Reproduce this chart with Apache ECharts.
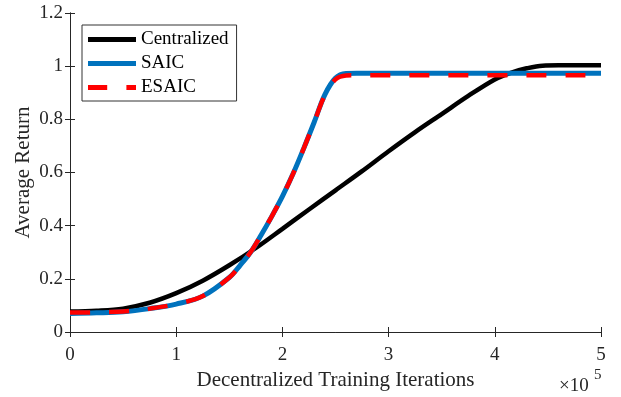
<!DOCTYPE html>
<html>
<head>
<meta charset="utf-8">
<script src="https://cdn.jsdelivr.net/npm/echarts@6/dist/echarts.min.js"></script>
<style>
html,body{margin:0;padding:0;background:#fff;}
#chart{width:621px;height:397px;}
</style>
</head>
<body>
<div id="chart"></div>
<script>
// x values in units of 1e5 iterations
var centralX = [0,0.25,0.5,0.75,1,1.25,1.5,1.75,2,2.25,2.5,2.75,3,3.25,3.5,3.75,4,4.15,4.3,4.45,4.6,5];
var centralY = [0.077,0.080,0.088,0.110,0.146,0.193,0.251,0.316,0.388,0.461,0.533,0.605,0.680,0.752,0.820,0.888,0.950,0.975,0.992,1.002,1.003,1.003];

var saicX = [0,0.25,0.5,0.75,1,1.25,1.5,1.6,1.7,1.8,1.9,2,2.1,2.2,2.3,2.4,2.5,2.6,2.7,5];
var saicY = [0.070,0.072,0.076,0.088,0.105,0.135,0.205,0.250,0.300,0.365,0.435,0.510,0.595,0.690,0.790,0.893,0.955,0.972,0.973,0.973];

var esaicX = [0,0.25,0.5,0.75,1,1.25,1.5,1.6,1.7,1.8,1.9,2,2.1,2.2,2.3,2.4,2.5,2.6,2.7,5];
var esaicY = [0.073,0.074,0.077,0.088,0.105,0.135,0.205,0.250,0.300,0.365,0.435,0.510,0.595,0.690,0.790,0.891,0.950,0.965,0.966,0.966];

var seriesNames = ['Centralized','SAIC','ESAIC'];
var xTicks = [0,1,2,3,4,5];
var yTicks = [0,0.2,0.4,0.6,0.8,1,1.2];

function pairs(xs, ys){ return xs.map(function(x,i){ return [x, ys[i]]; }); }

var FONT = '"Liberation Serif", "Times New Roman", serif';
var AX = '#262626';
var SOLID_ICON = 'path://M0,0H50V5H0Z';
var DASH_ICON = 'path://M0,0H20V5H0Z M40,0H50V5H40Z';

var chart = echarts.init(document.getElementById('chart'), null, {renderer:'canvas'});
var option = {
  backgroundColor: '#fff',
  animation: false,
  grid: {left:70, right:20, top:13, bottom:65},
  legend: {
    orient:'vertical', left:82, top:25,
    data: [
      {name:seriesNames[0], icon:SOLID_ICON},
      {name:seriesNames[1], icon:SOLID_ICON},
      {name:seriesNames[2], icon:DASH_ICON}
    ],
    itemWidth:48, itemHeight:5, itemGap:5,
    padding:[5,8,4,6],
    borderColor:'#333', borderWidth:1, backgroundColor:'#fff',
    textStyle:{fontFamily:FONT, fontSize:19, color:'#000', lineHeight:19}
  },
  xAxis: [{
    type:'value', min:xTicks[0], max:xTicks[xTicks.length-1], interval:1,
    name:'Decentralized Training Iterations', nameLocation:'middle', nameGap:38,
    nameMoveOverlap:false,
    nameTextStyle:{fontFamily:FONT, fontSize:21, color:'#262626'},
    axisLine:{show:true, lineStyle:{color:AX, width:1}},
    axisTick:{show:true, inside:true, length:5, lineStyle:{color:AX}},
    axisLabel:{fontFamily:FONT, fontSize:19, color:'#262626', margin:14},
    splitLine:{show:false}
  },{
    type:'value', position:'top', min:xTicks[0], max:xTicks[xTicks.length-1], interval:1,
    axisLine:{show:true, lineStyle:{color:AX, width:1}},
    axisTick:{show:true, inside:true, length:5, lineStyle:{color:AX}},
    axisLabel:{show:false}, splitLine:{show:false}
  }],
  yAxis: [{
    type:'value', min:yTicks[0], max:yTicks[yTicks.length-1], interval:0.2,
    name:'Average Return', nameLocation:'middle', nameGap:36,
    nameMoveOverlap:false,
    nameTextStyle:{fontFamily:FONT, fontSize:21, color:'#262626'},
    axisLine:{show:true, lineStyle:{color:AX, width:1}},
    axisTick:{show:true, inside:true, length:5, lineStyle:{color:AX}},
    axisLabel:{fontFamily:FONT, fontSize:19, color:'#262626', margin:7,
      formatter:function(v){ return String(Math.round(v*10)/10); }},
    splitLine:{show:false}
  },{
    type:'value', position:'right', min:yTicks[0], max:yTicks[yTicks.length-1], interval:0.2,
    axisLine:{show:true, lineStyle:{color:AX, width:1}},
    axisTick:{show:true, inside:true, length:5, lineStyle:{color:AX}},
    axisLabel:{show:false}, splitLine:{show:false}
  }],
  series: [{
    name:seriesNames[0], type:'line', data:pairs(centralX, centralY),
    symbol:'none', smooth:0.35,
    lineStyle:{color:'#000', width:4.5}, itemStyle:{color:'#000'}, z:2
  },{
    name:seriesNames[1], type:'line', data:pairs(saicX, saicY),
    symbol:'none', smooth:0.35,
    lineStyle:{color:'#0072BD', width:5}, itemStyle:{color:'#0072BD'}, z:3
  },{
    name:seriesNames[2], type:'line', data:pairs(esaicX, esaicY),
    symbol:'none', smooth:0.35,
    lineStyle:{color:'#FF0000', width:4.5, type:[20,19], cap:'butt'}, itemStyle:{color:'#FF0000'}, z:4
  }],
  graphic: [{
    type:'text', left:559, top:377,
    style:{text:'×10', fontFamily:FONT, fontSize:19, fill:'#262626'}
  },{
    type:'text', left:594, top:368,
    style:{text:'5', fontFamily:FONT, fontSize:15, fill:'#262626'}
  }]
};
chart.setOption(option);
</script>
</body>
</html>
